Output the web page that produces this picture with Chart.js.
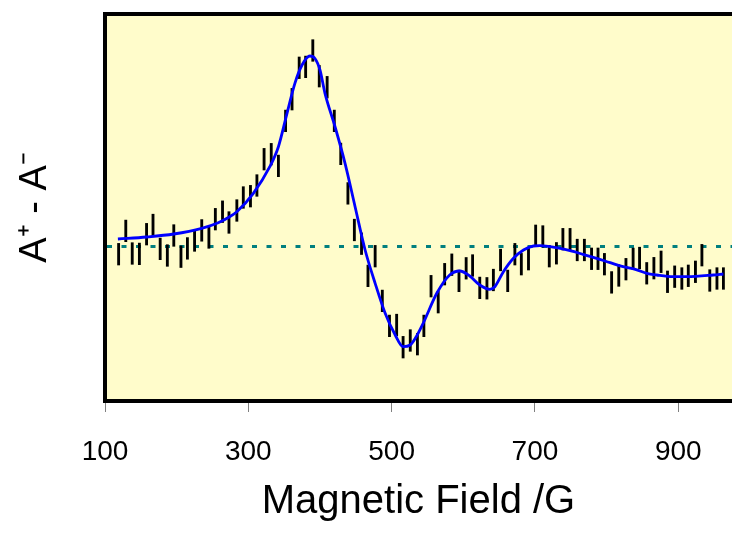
<!DOCTYPE html>
<html><head><meta charset="utf-8">
<script src="https://cdn.jsdelivr.net/npm/chart.js@4.4.1/dist/chart.umd.min.js"></script>
<style>html,body{margin:0;padding:0;background:#fff}#wrap{width:732px;height:537px}</style>
</head><body><div id="wrap"><canvas id="c" width="732" height="537"></canvas></div>
<script>
// Measured points (field in G, signal in arbitrary units)
const fieldG = [119,129,138,148,158,167,177,187,196,206,215,225,235,245,254,264,273,284,293,303,312,322,332,342,352,361,371,380,390,399,410,420,429,439,448,458,467,477,487,497,507,516,526,536,545,555,565,574,584,594,604,613,623,633,642,652,662,672,681,691,701,711,720,730,739,749,759,769,779,788,797,807,817,827,837,846,856,866,876,885,895,905,914,924,933,944,954,963];
const signal = [-0.75,1.58,-0.68,-0.72,1.25,2.17,-0.22,-0.88,1.12,-1.0,-0.17,0.62,1.63,0.92,2.75,3.5,2.42,3.62,4.92,5.05,6.12,8.75,9.25,8.08,12.58,14.75,17.89,17.98,19.62,17.05,15.95,12.58,9.28,5.33,1.67,0.3,-2.92,-0.95,-5.42,-7.92,-7.83,-10.05,-9.38,-9.75,-7.92,-3.95,-5.55,-2.75,-1.8,-3.42,-2.16,-1.88,-4.12,-4.16,-3.33,-1.33,-3.42,-0.75,-1.75,-1.25,1.09,1.02,-0.95,-0.66,0.75,0.75,-0.33,-0.33,-1.21,-1.21,-1.75,-3.57,-2.88,-2.25,-1.22,-1.13,-2.66,-2.15,-1.51,-3.51,-3.0,-3.18,-2.91,-2.51,-0.85,-3.38,-3.18,-3.18];
const errorHalf = 1.08;
// Fitted curve
const fitField = [118,158,196,235,258,274,284,307,330,342,354,365,375,386,393,400,407,421,435,449,463,477,491,505,516,526,533,544,563,581,595,609,623,637,644,656,670,684,698,707,730,749,767,786,805,823,840,856,870,893,912,949,963];
const fitSignal = [0.77,0.97,1.27,1.84,2.4,3.0,3.5,5.34,8.0,10.0,13.34,16.34,18.17,19.07,18.82,17.67,15.34,12.0,8.34,4.0,-0.33,-3.66,-6.66,-8.83,-10.0,-9.83,-9.16,-7.66,-4.66,-2.83,-2.43,-2.93,-3.83,-4.26,-4.0,-2.5,-1.16,-0.33,0.07,0.1,-0.1,-0.4,-0.76,-1.16,-1.6,-2.0,-2.26,-2.66,-2.83,-3.0,-3.0,-2.83,-2.73];
const xTickValues = [100,300,500,700,900];
const xRange = [100, 975];
const yRange = [-15.43, 23.27];
const xTitle = 'Magnetic Field /G';
const yTitle = 'A\u207A - A\u207B';

const FONT = "'Liberation Sans', Arial, sans-serif";

const framePlugin = {
  id: 'frame',
  beforeDraw(chart) {
    const {ctx, chartArea: a} = chart;
    ctx.save();
    ctx.fillStyle = '#FFFCCB';
    ctx.fillRect(a.left, a.top, a.right - a.left, a.bottom - a.top);
    ctx.restore();
  },
  beforeDatasetsDraw(chart) {
    const {ctx, chartArea: a} = chart;
    ctx.save();
    ctx.strokeStyle = '#000';
    ctx.lineWidth = 4;
    ctx.beginPath();
    ctx.moveTo(a.left - 2, a.top);
    ctx.lineTo(a.right, a.top);
    ctx.stroke();
    ctx.restore();
  }
};

new Chart(document.getElementById('c'), {
  type: 'bar',
  data: {
    datasets: [
      {
        type: 'line',
        data: fitField.map((g, i) => ({x: g, y: fitSignal[i]})),
        borderColor: '#0000FF',
        borderWidth: 2.8,
        pointRadius: 0,
        cubicInterpolationMode: 'monotone',
        fill: false
      },
      {
        type: 'bar',
        data: fieldG.map((g, i) => ({x: g, y: [signal[i] - errorHalf, signal[i] + errorHalf]})),
        backgroundColor: '#000000',
        borderWidth: 0,
        barThickness: 2.2,
        grouped: false
      }
    ]
  },
  options: {
    responsive: false,
    animation: false,
    devicePixelRatio: 1,
    layout: {padding: {top: 14, right: 0, bottom: 0, left: 0}},
    plugins: {legend: {display: false}, tooltip: {enabled: false}},
    scales: {
      x: {
        type: 'linear', min: xRange[0], max: xRange[1], offset: false,
        afterBuildTicks: ax => { ax.ticks = xTickValues.map(v => ({value: v})); },
        ticks: {color: '#000', font: {family: FONT, size: 28}, padding: 23, maxRotation: 0, autoSkip: false},
        grid: {offset: false, drawOnChartArea: false, drawTicks: true, tickLength: 11, tickColor: '#808080', tickWidth: 1},
        border: {display: true, color: '#000', width: 4},
        title: {display: true, text: xTitle, color: '#000', font: {family: FONT, size: 40}, padding: {top: 0, bottom: 11}},
        afterFit: ax => { ax.height = 136; }
      },
      y: {
        type: 'linear', min: yRange[0], max: yRange[1],
        afterBuildTicks: ax => { ax.ticks = [{value: 0}]; },
        ticks: {display: false},
        grid: {offset: false, color: '#007F7F', lineWidth: 3, drawTicks: false},
        border: {display: true, color: '#000', width: 4, dash: [5, 9.5]},
        title: {display: true, text: yTitle, color: '#000', font: {family: FONT, size: 38}, padding: {top: 13, bottom: 0}},
        afterFit: ax => { ax.width = 105; }
      }
    }
  },
  plugins: [framePlugin]
});
</script>
</body></html>
